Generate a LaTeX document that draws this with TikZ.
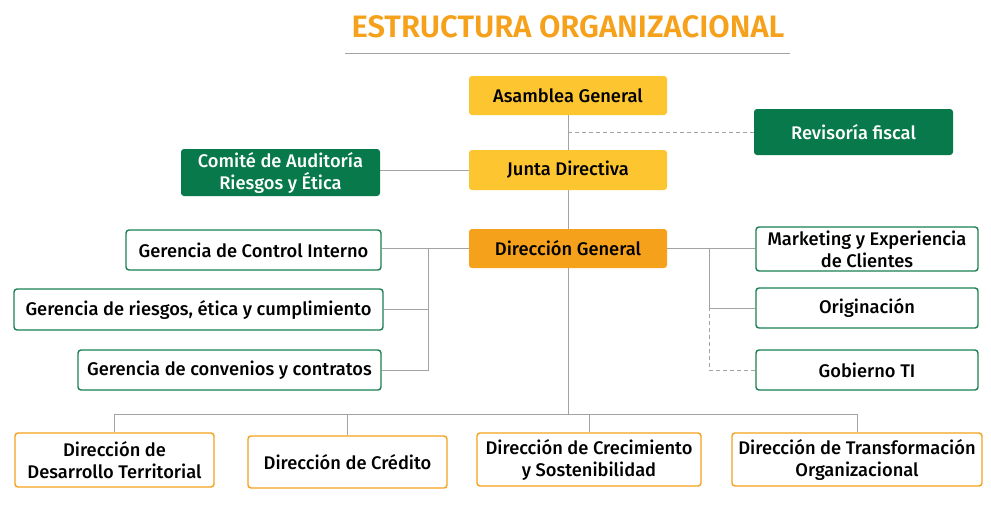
\documentclass[tikz,border=0pt]{standalone}
\usepackage{fontspec}
\setmainfont{Fira Sans Medium}[BoldFont=Fira Sans SemiBold]
\usepackage{tikz}
\usetikzlibrary{positioning,calc,backgrounds}

\definecolor{cYellow}{HTML}{FDC530}
\definecolor{cOrange}{HTML}{F5A11C}
\definecolor{cGreen}{HTML}{08794A}
\definecolor{cGreenLine}{HTML}{1A7F52}
\definecolor{cLine}{HTML}{A3A3A3}

\tikzset{
  box/.style={rounded corners=3pt, inner sep=0pt, align=center,
    font=\fontsize{18.3}{22}\selectfont},
  yellowbox/.style={box, fill=cYellow, minimum width=198pt, minimum height=39pt},
  orangefill/.style={box, fill=cOrange, minimum width=198pt, minimum height=39pt},
  greenbox/.style={box, fill=cGreen, text=white},
  whitebox/.style={box, draw=cGreenLine, line width=1.4pt, fill=white},
  orangebox/.style={box, draw=cOrange, line width=1.4pt, fill=white},
  link/.style={draw=cLine, line width=0.9pt},
  dashlink/.style={link, dash pattern=on 4pt off 3pt}
}

\begin{document}
\begin{tikzpicture}[x=1pt,y=-1pt]
\useasboundingbox (0,0) rectangle (991,504);

\node[text=cOrange, font=\fontsize{31}{34}\selectfont\bfseries] (title) at (568,27) {ESTRUCTURA ORGANIZACIONAL};
\draw[cLine, line width=0.8pt] (345,53) -- (790,53);

% cabeza
\node[yellowbox] (asamblea) at (568,95.5) {Asamblea General};
\node[yellowbox, minimum height=40pt] (junta) at (568,170) {Junta Directiva};
\node[orangefill] (general) at (568,248.5) {Direcci\'on General};
\node[greenbox, minimum width=199pt, minimum height=46pt] (revisoria) at (853.5,132) {Revisor\'ia fiscal};
\node[greenbox, minimum width=199pt, minimum height=47pt] (comite) at (280.5,172.5) {Comit\'e de Auditor\'ia\\Riesgos y \'Etica};

% gerencias
\node[whitebox, minimum width=255pt, minimum height=40pt] (control) at (253.5,250) {Gerencia de Control Interno};
\node[whitebox, minimum width=369pt, minimum height=41pt] (riesgos) at (198.5,309.5) {Gerencia de riesgos, \'etica y cumplimiento};
\node[whitebox, minimum width=303pt, minimum height=40pt] (convenios) at (229.5,370) {Gerencia de convenios y contratos};
\node[whitebox, minimum width=222pt, minimum height=44pt] (marketing) at (867,249) {Marketing y Experiencia\\de Clientes};
\node[whitebox, minimum width=222pt, minimum height=40pt] (originacion) at (867,308) {Originaci\'on};
\node[whitebox, minimum width=222pt, minimum height=40pt] (gobierno) at (867,370) {Gobierno TI};

% direcciones
\node[orangebox, minimum width=199pt, minimum height=54pt] (territorial) at (114.5,460) {Direcci\'on de\\Desarrollo Territorial};
\node[orangebox, minimum width=199pt, minimum height=52pt] (credito) at (347.5,462) {Direcci\'on de Cr\'edito};
\node[orangebox, minimum width=224pt, minimum height=53pt] (crecimiento) at (589,459.5) {Direcci\'on de Crecimiento\\y Sostenibilidad};
\node[orangebox, minimum width=250pt, minimum height=53pt] (transformacion) at (857,459.5) {Direcci\'on de Transformaci\'on\\Organizacional};

\coordinate (lbus) at (428,0);
\coordinate (rbus) at (709,0);
\coordinate (bbus) at (0,414);

\begin{scope}[on background layer]
\draw[link] (asamblea) -- (junta) -- (general);
\draw[dashlink] (revisoria.west) -- (revisoria.west -| asamblea.south);
\draw[link] (junta.west) -- (junta.west -| comite.east);
\draw[link] (general.west) -- (general.west -| control.east);
\draw[link] (riesgos.east) -- (riesgos.east -| lbus);
\draw[link] (convenios.east) -| (lbus |- general.west);
\draw[link] (general.east) -- (general.east -| marketing.west);
\draw[link] (originacion.west) -| (rbus |- general.east);
\draw[dashlink] (gobierno.west) -| (rbus |- originacion.west);
\draw[link] (general.south) -- (general.south |- bbus);
\draw[link] (territorial.north) |- (transformacion.north |- bbus) -- (transformacion.north);
\draw[link] (credito.north) -- (credito.north |- bbus);
\draw[link] (crecimiento.north) -- (crecimiento.north |- bbus);
\end{scope}
\end{tikzpicture}
\end{document}
